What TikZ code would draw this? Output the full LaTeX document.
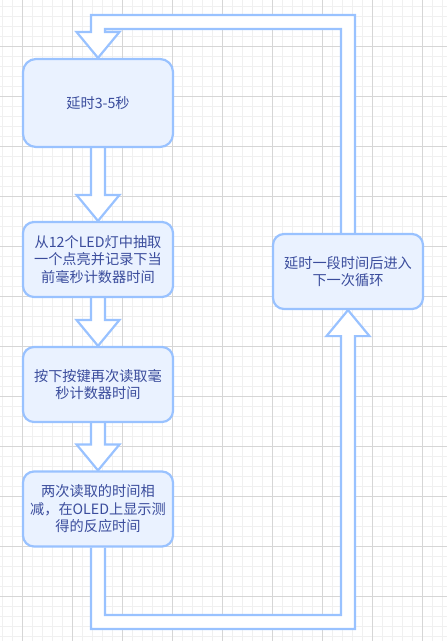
\documentclass[tikz,border=0pt]{standalone}
\usepackage{fontspec}
\setmainfont{Noto Sans CJK SC}
\usetikzlibrary{calc}
\pgfdeclarelayer{arrowlayer}
\pgfsetlayers{arrowlayer,main}
\definecolor{gridminor}{HTML}{F0F0F0}
\definecolor{gridmajor}{HTML}{D6D6D6}
\definecolor{boxline}{HTML}{99C2FF}
\definecolor{boxfill}{HTML}{EAF2FF}
\definecolor{boxtext}{HTML}{3A4C9C}
\tikzset{
  stepbox/.style={draw=boxline, fill=boxfill, line width=2.2pt, rounded corners=11pt,
    minimum width=150pt, minimum height=75pt, inner sep=0pt, align=center,
    text=boxtext, font=\fontsize{14.2}{17.5}\selectfont},
  flex/.style={draw=boxline, fill=white, line width=2.2pt, line join=miter},
}
\begin{document}
\begin{tikzpicture}[x=1pt,y=-1pt]
\useasboundingbox (0,0) rectangle (447,641);
\begin{pgfonlayer}{arrowlayer}
\fill[white] (0,0) rectangle (447,641);
\foreach \k in {0,...,44} \draw[gridminor, line width=1pt] (2.7+10*\k,0) -- (2.7+10*\k,641);
\foreach \k in {0,...,63} \draw[gridminor, line width=1pt] (0,6.7+10*\k) -- (447,6.7+10*\k);
\foreach \k in {0,...,8} \draw[gridmajor, line width=1pt] (22.7+50*\k,0) -- (22.7+50*\k,641);
\foreach \k in {1,...,12} \draw[gridmajor, line width=1pt] (0,-3.3+50*\k) -- (447,-3.3+50*\k);
\end{pgfonlayer}

\path (98,103) node[stepbox, minimum height=88pt, rounded corners=13pt] (b1) {延时3-5秒};
\path (98,259.5) node[stepbox] (b2) {从12个LED灯中抽取\\一个点亮并记录下当\\前毫秒计数器时间};
\path (98,384.5) node[stepbox] (b3) {按下按键再次读取毫\\秒计数器时间};
\path (98,509) node[stepbox] (b4) {两次读取的时间相\\减，在OLED上显示测\\得的反应时间};
\path (348,271.5) node[stepbox] (b5) {延时一段时间后进入\\下一次循环};
\coordinate (lb) at (0,622);
\coordinate (tp) at (0,22);

\begin{pgfonlayer}{arrowlayer}
\foreach \a/\b in {b1/b2,b2/b3,b3/b4}{
  \filldraw[flex] ($(\a.south)+(-7,0)$) -- ($(\b.north)+(-7,-26)$) -- ($(\b.north)+(-21.5,-26)$)
    -- (\b.north) -- ($(\b.north)+(21.5,-26)$) -- ($(\b.north)+(7,-26)$) -- ($(\a.south)+(7,0)$);
}
\filldraw[flex] ($(b4.south)+(-7,0)$) -- ($(b4.south|-lb)+(-7,7)$) -- ($(b5.south|-lb)+(7,7)$)
  -- ($(b5.south)+(7,26)$) -- ($(b5.south)+(21.5,26)$) -- (b5.south) -- ($(b5.south)+(-21.5,26)$)
  -- ($(b5.south)+(-7,26)$) -- ($(b5.south|-lb)+(-7,-7)$) -- ($(b4.south|-lb)+(7,-7)$)
  -- ($(b4.south)+(7,0)$);
\filldraw[flex] ($(b5.north)+(7,0)$) -- ($(b5.north|-tp)+(7,-7)$) -- ($(b1.north|-tp)+(-7,-7)$)
  -- ($(b1.north)+(-7,-26)$) -- ($(b1.north)+(-21.5,-26)$) -- (b1.north) -- ($(b1.north)+(21.5,-26)$)
  -- ($(b1.north)+(7,-26)$) -- ($(b1.north|-tp)+(7,7)$) -- ($(b5.north|-tp)+(-7,7)$)
  -- ($(b5.north)+(-7,0)$);
\end{pgfonlayer}
\end{tikzpicture}
\end{document}
